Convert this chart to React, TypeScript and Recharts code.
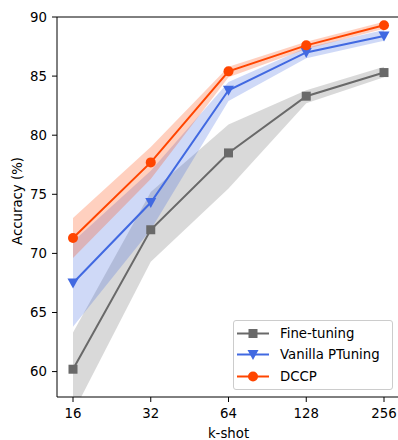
import {
  ComposedChart,
  Line,
  Area,
  XAxis,
  YAxis,
  ReferenceLine,
} from 'recharts';

const kShots = ['16', '32', '64', '128', '256'];

const ftMean = [60.2, 72.0, 78.5, 83.3, 85.3];
const ftLo = [56.5, 69.3, 75.5, 82.7, 84.9];
const ftHi = [63.3, 75.2, 80.9, 83.8, 85.8];

const vpMean = [67.5, 74.3, 83.8, 87.0, 88.4];
const vpLo = [63.8, 72.0, 82.9, 86.5, 88.0];
const vpHi = [71.0, 77.0, 84.5, 87.4, 88.9];

const dcMean = [71.3, 77.7, 85.4, 87.6, 89.3];
const dcLo = [69.6, 76.3, 84.9, 87.3, 89.0];
const dcHi = [73.0, 79.0, 85.8, 87.9, 89.6];

const yTicks = [60, 65, 70, 75, 80, 85, 90];

const GRAY = '#696969';
const BLUE = '#4169e1';
const RED = '#ff4500';
const FONT = '"DejaVu Sans", sans-serif';

const data = kShots.map((k, i) => ({
  k,
  ft: ftMean[i],
  ftBand: [ftLo[i], ftHi[i]],
  vp: vpMean[i],
  vpBand: [vpLo[i], vpHi[i]],
  dc: dcMean[i],
  dcBand: [dcLo[i], dcHi[i]],
}));

const Square = (p: any) => (
  <rect key={p.key ?? `sq-${p.index}`} x={p.cx - 4.5} y={p.cy - 4.5} width={9} height={9} fill={GRAY} />
);
const TriDown = (p: any) => (
  <path
    key={p.key ?? `tr-${p.index}`}
    d={`M${p.cx - 5.5},${p.cy - 4.5} L${p.cx + 5.5},${p.cy - 4.5} L${p.cx},${p.cy + 5.5} Z`}
    fill={BLUE}
  />
);
const Dot = (p: any) => (
  <circle key={p.key ?? `ci-${p.index}`} cx={p.cx} cy={p.cy} r={5} fill={RED} />
);

const legendItems = [
  { name: 'Fine-tuning', color: GRAY, marker: 'square' },
  { name: 'Vanilla PTuning', color: BLUE, marker: 'tri' },
  { name: 'DCCP', color: RED, marker: 'circle' },
];

function LegendBox() {
  return (
    <div
      style={{
        position: 'absolute',
        left: 233,
        top: 320,
        width: 160,
        height: 70,
        border: '1px solid #cccccc',
        borderRadius: 3,
        background: 'rgba(255,255,255,0.8)',
        fontFamily: FONT,
        fontSize: 13.3,
        color: '#000',
        boxSizing: 'border-box',
        paddingTop: 2,
      }}
    >
      {legendItems.map((it) => (
        <div key={it.name} style={{ display: 'flex', alignItems: 'center', height: 21.3, lineHeight: '21px' }}>
          <svg width={46} height={21} style={{ flex: 'none' }}>
            <line x1={3} x2={35} y1={10.5} y2={10.5} stroke={it.color} strokeWidth={2} />
            {it.marker === 'square' && <rect x={14.5} y={6} width={9} height={9} fill={it.color} />}
            {it.marker === 'tri' && <path d="M13.5,6 L24.5,6 L19,16 Z" fill={it.color} />}
            {it.marker === 'circle' && <circle cx={19} cy={10.5} r={5} fill={it.color} />}
          </svg>
          <span>{it.name}</span>
        </div>
      ))}
    </div>
  );
}

export default function App() {
  return (
    <div style={{ position: 'absolute', left: 0, top: 0, width: 398, height: 440, overflow: 'hidden', background: '#fff' }}>
      <ComposedChart width={402} height={440} data={data} margin={{ top: 17, right: 2, bottom: 0, left: 0 }}>
        <XAxis
          dataKey="k"
          type="category"
          scale="point"
          padding={{ left: 16, right: 16 }}
          height={43}
          tickSize={5}
          tickMargin={7}
          stroke="#000"
          tick={{ fill: '#000', fontSize: 13.3, fontFamily: FONT }}
          label={{ value: 'k-shot', position: 'insideBottom', offset: 2, fill: '#000', fontSize: 13.3, fontFamily: FONT }}
        />
        <YAxis
          type="number"
          domain={[57.85, 90]}
          ticks={yTicks}
          allowDataOverflow
          width={57}
          tickSize={5}
          tickMargin={5}
          stroke="#000"
          tick={{ fill: '#000', fontSize: 13.3, fontFamily: FONT }}
          label={{
            value: 'Accuracy (%)',
            angle: -90,
            position: 'insideLeft',
            offset: 17,
            dy: -6,
            style: { textAnchor: 'middle' },
            fill: '#000',
            fontSize: 13.3,
            fontFamily: FONT,
          }}
        />
        <ReferenceLine y={90} stroke="#000" />
        <Area type="linear" dataKey="ftBand" stroke="none" fill={GRAY} fillOpacity={0.25} isAnimationActive={false} />
        <Area type="linear" dataKey="vpBand" stroke="none" fill={BLUE} fillOpacity={0.25} isAnimationActive={false} />
        <Area type="linear" dataKey="dcBand" stroke="none" fill={RED} fillOpacity={0.25} isAnimationActive={false} />
        <Line type="linear" dataKey="ft" name="Fine-tuning" stroke={GRAY} strokeWidth={2} dot={Square} activeDot={false} isAnimationActive={false} />
        <Line type="linear" dataKey="vp" name="Vanilla PTuning" stroke={BLUE} strokeWidth={2} dot={TriDown} activeDot={false} isAnimationActive={false} />
        <Line type="linear" dataKey="dc" name="DCCP" stroke={RED} strokeWidth={2} dot={Dot} activeDot={false} isAnimationActive={false} />
      </ComposedChart>
      <LegendBox />
    </div>
  );
}
